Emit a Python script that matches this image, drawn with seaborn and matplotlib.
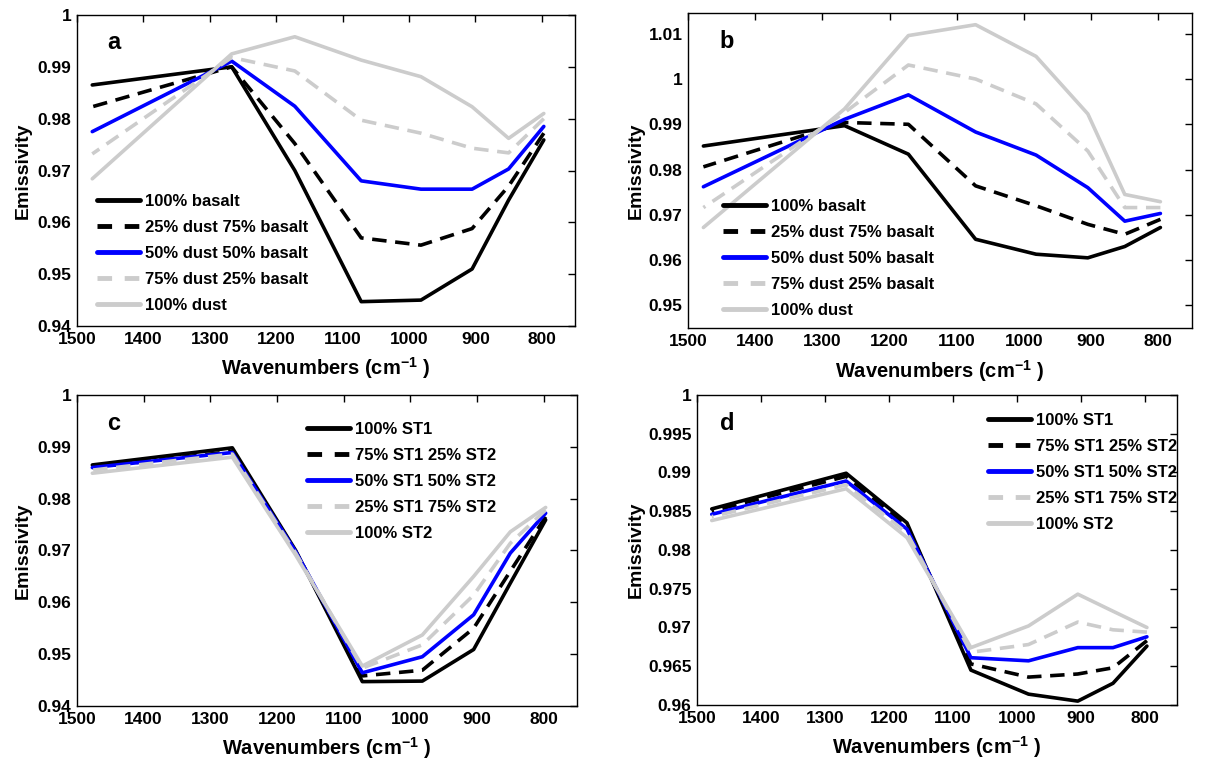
import matplotlib
matplotlib.use("Agg")
import matplotlib.pyplot as plt
import seaborn as sns
import pandas as pd
from matplotlib.ticker import FuncFormatter, MultipleLocator

# ---------------- data ----------------
wavenumbers = [1477, 1267, 1172, 1072, 982, 905, 850, 797]

labels_ab = ["100% basalt", "25% dust 75% basalt", "50% dust 50% basalt",
             "75% dust 25% basalt", "100% dust"]
labels_cd = ["100% ST1", "75% ST1 25% ST2", "50% ST1 50% ST2",
             "25% ST1 75% ST2", "100% ST2"]

# panel a
a_basalt100 = [0.9865, 0.9900, 0.9700, 0.9447, 0.9450, 0.9510, 0.9643, 0.9759]
a_dust25 = [0.9823, 0.9900, 0.9752, 0.9570, 0.9556, 0.9588, 0.9670, 0.9772]
a_dust50 = [0.9775, 0.9911, 0.9824, 0.9680, 0.9664, 0.9664, 0.9703, 0.9785]
a_dust75 = [0.9732, 0.9918, 0.9892, 0.9797, 0.9772, 0.9743, 0.9734, 0.9800]
a_dust100 = [0.9684, 0.9925, 0.9958, 0.9913, 0.9881, 0.9823, 0.9762, 0.9810]

# panel b
b_basalt100 = [0.9852, 0.9897, 0.9834, 0.9646, 0.9613, 0.9605, 0.9630, 0.9672]
b_dust25 = [0.9806, 0.9904, 0.9900, 0.9764, 0.9720, 0.9679, 0.9657, 0.9690]
b_dust50 = [0.9762, 0.9911, 0.9965, 0.9883, 0.9832, 0.9760, 0.9686, 0.9703]
b_dust75 = [0.9716, 0.9926, 1.0031, 1.0000, 0.9945, 0.9841, 0.9716, 0.9716]
b_dust100 = [0.9672, 0.9934, 1.0096, 1.0120, 1.0050, 0.9923, 0.9745, 0.9729]

# panel c
c_st1_100 = [0.9865, 0.9898, 0.9700, 0.9447, 0.9448, 0.9509, 0.9637, 0.9759]
c_st1_75 = [0.9860, 0.9891, 0.9698, 0.9458, 0.9469, 0.9550, 0.9660, 0.9765]
c_st1_50 = [0.9860, 0.9889, 0.9698, 0.9464, 0.9495, 0.9576, 0.9695, 0.9772]
c_st1_25 = [0.9855, 0.9886, 0.9695, 0.9473, 0.9518, 0.9614, 0.9714, 0.9778]
c_st2_100 = [0.9849, 0.9880, 0.9691, 0.9477, 0.9537, 0.9650, 0.9736, 0.9783]

# panel d
d_st1_100 = [0.9853, 0.9899, 0.9835, 0.9645, 0.9614, 0.9605, 0.9628, 0.9676]
d_st1_75 = [0.9850, 0.9895, 0.9831, 0.9653, 0.9636, 0.9640, 0.9648, 0.9683]
d_st1_50 = [0.9846, 0.9889, 0.9827, 0.9661, 0.9657, 0.9674, 0.9674, 0.9688]
d_st1_25 = [0.9843, 0.9884, 0.9822, 0.9668, 0.9678, 0.9707, 0.9697, 0.9694]
d_st2_100 = [0.9838, 0.9879, 0.9816, 0.9674, 0.9702, 0.9743, 0.9721, 0.9700]

panel_letters = ["a", "b", "c", "d"]

# ---------------- style ----------------
sns.set_style("white")
plt.rcParams["font.family"] = ["Liberation Sans", "DejaVu Sans"]
plt.rcParams["font.weight"] = "bold"
plt.rcParams["text.color"] = "black"
plt.rcParams["axes.labelcolor"] = "black"
plt.rcParams["xtick.color"] = "black"
plt.rcParams["ytick.color"] = "black"
plt.rcParams["mathtext.fontset"] = "custom"
plt.rcParams["mathtext.rm"] = "Liberation Sans:bold"
plt.rcParams["mathtext.bf"] = "Liberation Sans:bold"
plt.rcParams["mathtext.default"] = "bf"

colors = ["black", "black", "#0000ff", "#cccccc", "#cccccc"]
styles = ["-", (0, (4, 2.4)), "-", (0, (4, 2.4)), "-"]
legend_styles = ["-", (0, (3, 2.6)), "-", (0, (3, 2.6)), "-"]

fig = plt.figure(figsize=(12.3, 7.61), dpi=100)

positions = [
    [0.0626, 0.5716, 0.4049, 0.4087],
    [0.5593, 0.5690, 0.4098, 0.4140],
    [0.0626, 0.0723, 0.4065, 0.4087],
    [0.5667, 0.0736, 0.3902, 0.4074],
]
series_sets = [
    [a_basalt100, a_dust25, a_dust50, a_dust75, a_dust100],
    [b_basalt100, b_dust25, b_dust50, b_dust75, b_dust100],
    [c_st1_100, c_st1_75, c_st1_50, c_st1_25, c_st2_100],
    [d_st1_100, d_st1_75, d_st1_50, d_st1_25, d_st2_100],
]
label_sets = [labels_ab, labels_ab, labels_cd, labels_cd]
ylims = [(0.94, 1.0), (0.945, 1.0146), (0.94, 1.0), (0.96, 1.0)]
ysteps = [0.01, 0.01, 0.01, 0.005]
legend_anchor = [(0.04, 0.425), (0.069, 0.41), (0.46, 0.913), (0.606, 0.942)]
letter_pos = [(0.06, 0.89), (0.063, 0.889), (0.06, 0.887), (0.048, 0.887)]
ylabel_x = [-0.09, -0.085, -0.09, -0.108]

fmt = FuncFormatter(lambda v, p: "{:g}".format(round(v, 4)))

for i in range(4):
    ax = fig.add_axes(positions[i])
    for vals, lab, col, ls in zip(series_sets[i], label_sets[i], colors, styles):
        df = pd.DataFrame({"wn": wavenumbers, "em": vals})
        sns.lineplot(data=df, x="wn", y="em", ax=ax, color=col, linestyle=ls,
                     linewidth=2.6, label=lab, errorbar=None)
    ax.set_xlim(1500, 750)
    ax.set_ylim(*ylims[i])
    ax.xaxis.set_major_locator(MultipleLocator(100))
    ax.yaxis.set_major_locator(MultipleLocator(ysteps[i]))
    ax.yaxis.set_major_formatter(fmt)
    ax.tick_params(direction="in", length=5, width=1, top=True, right=True,
                   labelsize=12.5, pad=4, colors="black")
    for lbl in ax.get_xticklabels() + ax.get_yticklabels():
        lbl.set_fontweight("bold")
    for sp in ax.spines.values():
        sp.set_color("black")
        sp.set_linewidth(1.0)
    ax.set_xlabel(r"Wavenumbers (cm$^{-1}$ )", fontsize=14.5, fontweight="bold")
    ax.xaxis.set_label_coords(0.5, -0.158)
    ax.xaxis.label.set_va("baseline")
    ax.set_ylabel("Emissivity", fontsize=14, fontweight="bold")
    ax.yaxis.set_label_coords(ylabel_x[i], 0.5)
    ax.text(letter_pos[i][0], letter_pos[i][1], panel_letters[i], transform=ax.transAxes,
            fontsize=17, fontweight="bold", ha="left", va="baseline")
    leg = ax.legend(loc="upper left", bbox_to_anchor=legend_anchor[i], frameon=False,
                    fontsize=12, handlelength=2.6, handletextpad=0.3,
                    labelspacing=0.66, borderpad=0, borderaxespad=0)
    for t in leg.get_texts():
        t.set_fontweight("bold")
        t.set_color("black")
    for h, ls in zip(leg.get_lines(), legend_styles):
        h.set_linewidth(3.5)
        h.set_linestyle(ls)

fig.savefig("out.png", dpi=100)
